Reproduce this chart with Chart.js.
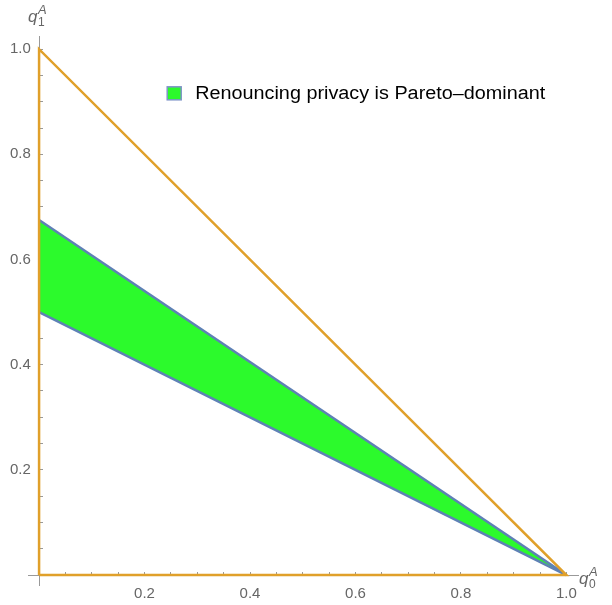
<!DOCTYPE html>
<html>
<head>
<meta charset="utf-8">
<script src="https://cdn.jsdelivr.net/npm/chart.js@4.4.1/dist/chart.umd.min.js"></script>
<style>
  html, body { margin: 0; padding: 0; background: #fff; }
  #wrap { width: 612px; height: 605px; }
</style>
</head>
<body>
<div id="wrap"><canvas id="myChart" width="612" height="605"></canvas></div>
<script>
// data
const xTicks = [0, 0.05, 0.1, 0.15, 0.2, 0.25, 0.3, 0.35, 0.4, 0.45, 0.5, 0.55, 0.6, 0.65, 0.7, 0.75, 0.8, 0.85, 0.9, 0.95, 1.0];
const yTicks = [0, 0.05, 0.1, 0.15, 0.2, 0.25, 0.3, 0.35, 0.4, 0.45, 0.5, 0.55, 0.6, 0.65, 0.7, 0.75, 0.8, 0.85, 0.9, 0.95, 1.0];
const labelledTicks = [0.2, 0.4, 0.6, 0.8, 1.0];

const triangleX = [0, 0, 1, 0];
const triangleY = [0, 1, 0, 0];
const upperX = [0, 1];
const upperY = [0.675, 0];
const lowerX = [0, 1];
const lowerY = [0.5, 0];

const legendLabel = "Renouncing privacy is Pareto\u2013dominant";

const toPoints = (xs, ys) => xs.map((x, i) => ({ x: x, y: ys[i] }));

const orange = "#e0a02a";
const blue = "#5e81b5";
const green = "rgb(44,250,44)";
const tickGray = "#666666";
const fontFamily = "'Liberation Sans', Arial, sans-serif";

// axis titles q0^A / q1^A and the legend box
const axisTitles = {
    id: "axisTitles",
    afterDraw(chart) {
        const { ctx, scales } = chart;
        const x = scales.x, y = scales.y;
        const drawQ = (px, py, sub) => {
            ctx.save();
            ctx.fillStyle = tickGray;
            ctx.textBaseline = "alphabetic";
            ctx.textAlign = "left";
            ctx.font = "italic 17px " + fontFamily;
            ctx.fillText("q", px, py);
            const w = ctx.measureText("q").width;
            ctx.font = "italic 13px " + fontFamily;
            ctx.fillText("A", px + w + 0.5, py - 8);
            ctx.font = "12px " + fontFamily;
            ctx.fillText(sub, px + w + 0.5, py + 4);
            ctx.restore();
        };
        drawQ(x.right + 1, y.getPixelForValue(0) + 9, "0");
        drawQ(x.getPixelForValue(0) - 11, y.top - 14, "1");

        // legend
        const lx = x.getPixelForValue(0.243), ly = y.getPixelForValue(0.916);
        ctx.save();
        ctx.fillStyle = green;
        ctx.strokeStyle = "#7f95c8";
        ctx.lineWidth = 1.5;
        ctx.fillRect(lx, ly - 6.5, 14, 13);
        ctx.strokeRect(lx, ly - 6.5, 14, 13);
        ctx.fillStyle = "#000";
        ctx.font = "18px " + fontFamily;
        ctx.textBaseline = "middle";
        ctx.textAlign = "left";
        ctx.translate(lx + 28, ly + 0.5);
        ctx.scale(1.1, 1);
        ctx.fillText(legendLabel, 0, 0);
        ctx.restore();
    }
};

const tickLabel = (value) => {
    const hit = labelledTicks.find(t => Math.abs(t - value) < 1e-6);
    return hit !== undefined ? hit.toFixed(1) : "";
};
// trailing space keeps the right-aligned y labels off the axis line
const yTickLabel = (value) => {
    const s = tickLabel(value);
    return s ? s + "  " : "";
};

const data = {
    datasets: [
        {
            label: "triangle",
            data: toPoints(triangleX, triangleY),
            borderColor: orange,
            borderWidth: 2.5,
            pointRadius: 0,
            showLine: true,
            fill: false,
            tension: 0
        },
        {
            label: legendLabel,
            data: toPoints(upperX, upperY),
            borderColor: blue,
            backgroundColor: green,
            borderWidth: 2.5,
            pointRadius: 0,
            showLine: true,
            fill: "+1",
            tension: 0
        },
        {
            label: "lower",
            data: toPoints(lowerX, lowerY),
            borderColor: blue,
            borderWidth: 2.5,
            pointRadius: 0,
            showLine: true,
            fill: false,
            tension: 0
        }
    ]
};

const axisCommon = (values, pad, cb) => ({
    type: "linear",
    afterBuildTicks: (scale) => {
        scale.ticks = values.map(v => ({ value: v }));
    },
    grid: {
        drawOnChartArea: false,
        drawTicks: true,
        tickLength: -4,
        tickColor: "#999999"
    },
    border: { display: true, color: "#999999", width: 1 },
    ticks: {
        autoSkip: false,
        maxRotation: 0,
        padding: pad,
        color: tickGray,
        font: { family: fontFamily, size: 15 },
        callback: cb
    }
});

const config = {
    type: "scatter",
    data,
    plugins: [axisTitles],
    options: {
        responsive: false,
        animation: false,
        layout: { padding: { left: 28, right: 34, top: 36, bottom: 20 } },
        plugins: {
            legend: { display: false },
            tooltip: { enabled: false },
            filler: { drawTime: "beforeDatasetsDraw" }
        },
        scales: {
            x: Object.assign(axisCommon(xTicks, 14, tickLabel), {
                min: -0.021, max: 1.022,
                position: { y: 0 }
            }),
            y: Object.assign(axisCommon(yTicks, 10, yTickLabel), {
                min: -0.019, max: 1.025,
                position: { x: 0 }
            })
        }
    }
};

window.myChart = new Chart(document.getElementById("myChart"), config);
</script>
</body>
</html>
